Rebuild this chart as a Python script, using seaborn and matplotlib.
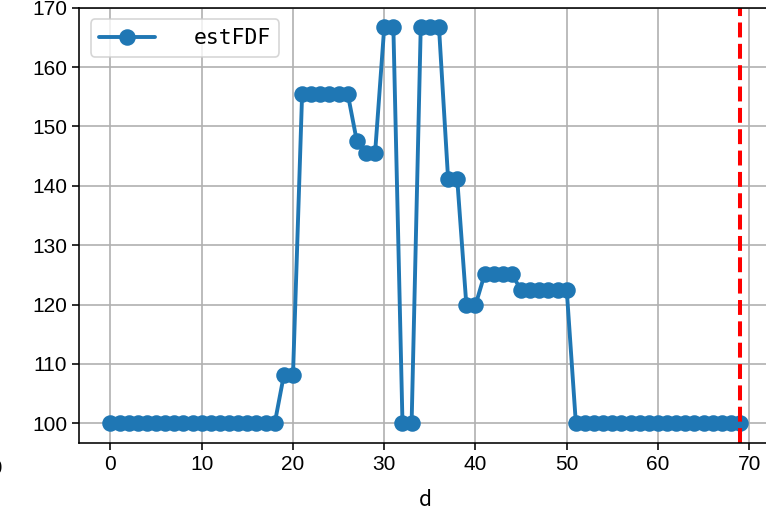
import numpy as np
import pandas as pd
import matplotlib
matplotlib.use("Agg")
import matplotlib.pyplot as plt
import seaborn as sns

# ---- data ----
d_values = list(range(70))
est_fdf = (
    [100.0] * 19 +          # 0..18
    [108.1] * 2 +           # 19..20
    [155.5] * 6 +           # 21..26
    [147.5] +               # 27
    [145.6] * 2 +           # 28..29
    [166.7] * 2 +           # 30..31
    [100.0] * 2 +           # 32..33
    [166.7] * 3 +           # 34..36
    [141.1] * 2 +           # 37..38
    [119.9] * 2 +           # 39..40
    [125.1] * 4 +           # 41..44
    [122.4] * 6 +           # 45..50
    [100.0] * 19            # 51..69
)
series_label = "estFDF"
x_label = "d"
vline_at = 69
x_ticks = [0, 10, 20, 30, 40, 50, 60, 70]
y_ticks = [100, 110, 120, 130, 140, 150, 160, 170]

df = pd.DataFrame({"d": d_values, "estFDF": est_fdf})

sns.set_style("ticks", rc={"text.color": "black", "axes.labelcolor": "black",
                           "xtick.color": "black", "ytick.color": "black",
                           "axes.edgecolor": "black"})
plt.rcParams['font.family'] = ['Liberation Sans', 'DejaVu Sans']

W, H = 766, 513
fig = plt.figure(figsize=(W / 100, H / 100), dpi=100)
left, right, top, bottom = 79, 771.6, 7.7, 443
ax = fig.add_axes([left / W, (H - bottom) / H, (right - left) / W, (bottom - top) / H])

sns.lineplot(data=df, x="d", y="estFDF", ax=ax, marker="o", color="#1f77b4",
             linewidth=2.8, markersize=10.5, markeredgewidth=1.4,
             markeredgecolor="#1f77b4", label=series_label)
ax.axvline(vline_at, color="red", linestyle="--", linewidth=2.9)

ax.set_xticks(x_ticks)
ax.set_yticks(y_ticks)
ax.set_xlim(-3.45, 72.45)
ax.set_ylim(96.67, 170.0)
ax.grid(True, color="#b0b0b0", linewidth=1.2)
ax.set_axisbelow(True)
ax.tick_params(labelsize=15, length=5, width=1.15, colors="black")
for s in ax.spines.values():
    s.set_linewidth(1.15)
    s.set_color("black")
ax.set_xlabel(x_label, fontsize=15, family=['Noto Sans CJK SC', 'DejaVu Sans'],
              labelpad=11, color="black")
ax.set_ylabel("")

leg = ax.legend(loc="upper left", prop={"family": "DejaVu Sans Mono", "size": 15.4},
                handlelength=2.6, handletextpad=1.8, borderaxespad=0.55,
                framealpha=0.8, edgecolor="#cccccc", fancybox=True)
leg.get_frame().set_linewidth(1.2)
for t in leg.get_texts():
    t.set_color("black")

# partially visible tick label of the neighbouring panel at the left edge
fig.text(3 / W, 1 - 469 / H, "70", ha="right", va="center", fontsize=15, color="black")

fig.savefig("out.png", dpi=100)
